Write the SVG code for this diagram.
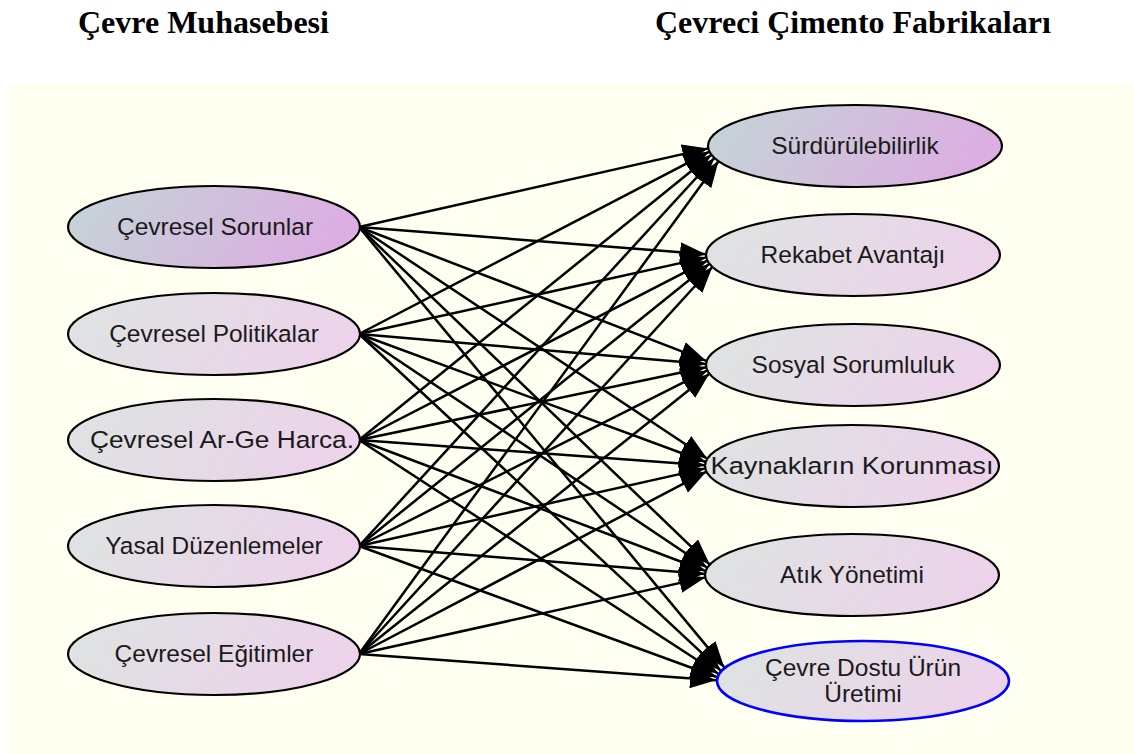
<svg xmlns="http://www.w3.org/2000/svg" width="1134" height="754" viewBox="0 0 1134 754">
<defs>
<linearGradient id="gStrong" x1="0" y1="0" x2="1" y2="0.2">
<stop offset="0" stop-color="#c3d6d6"/>
<stop offset="1" stop-color="#dcaee2"/>
</linearGradient>
<linearGradient id="gLight" x1="0" y1="0" x2="1" y2="0.2">
<stop offset="0" stop-color="#dde4e1"/>
<stop offset="1" stop-color="#ecd3ea"/>
</linearGradient>
<marker id="arr" markerUnits="userSpaceOnUse" markerWidth="26" markerHeight="20" refX="26" refY="10" orient="auto" viewBox="0 0 26 20">
<path d="M0,0 L26,10 L0,20 z" fill="#000"/>
</marker>
<style>
.title{font-family:"Liberation Serif","Times New Roman",serif;font-weight:bold;font-size:32px;fill:#000}
.lbl{font-family:"Liberation Sans",Arial,sans-serif;font-size:24.5px;fill:#1a1a1a;text-anchor:middle}
.node ellipse{stroke:#000;stroke-width:2.2}
.strong{fill:url(#gStrong)}
.light{fill:url(#gLight)}
#edges line{stroke:#000;stroke-width:2.5;marker-end:url(#arr)}
</style>
</defs>
<rect x="0" y="0" width="1134" height="754" fill="#ffffff"/>
<rect x="8" y="84" width="1126" height="670" fill="#fefff0"/>
<text class="title" x="78" y="33">Çevre Muhasebesi</text>
<text class="title" x="655" y="33">Çevreci Çimento Fabrikaları</text>

<g id="edges">
<line x1="359" y1="227" x2="708.3" y2="148.4"/>
<line x1="359" y1="227" x2="706" y2="254.2"/>
<line x1="359" y1="227" x2="706.4" y2="360.9"/>
<line x1="359" y1="227" x2="707.3" y2="458.8"/>
<line x1="359" y1="227" x2="709.8" y2="564.6"/>
<line x1="359" y1="227" x2="724.3" y2="667.4"/>

<line x1="359" y1="334" x2="709.4" y2="151.6"/>
<line x1="359" y1="334" x2="706.3" y2="257.4"/>
<line x1="359" y1="334" x2="706" y2="364.1"/>
<line x1="359" y1="334" x2="705.7" y2="462"/>
<line x1="359" y1="334" x2="707.3" y2="567.8"/>
<line x1="359" y1="334" x2="720.8" y2="670.6"/>

<line x1="359" y1="440" x2="711.4" y2="154.8"/>
<line x1="359" y1="440" x2="707.4" y2="260.6"/>
<line x1="359" y1="440" x2="706.2" y2="367.3"/>
<line x1="359" y1="440" x2="705" y2="465.2"/>
<line x1="359" y1="440" x2="705.7" y2="571"/>
<line x1="359" y1="440" x2="718.3" y2="673.8"/>

<line x1="359" y1="546" x2="714.4" y2="158"/>
<line x1="359" y1="546" x2="709.4" y2="263.7"/>
<line x1="359" y1="546" x2="707.3" y2="370.4"/>
<line x1="359" y1="546" x2="705.3" y2="468.4"/>
<line x1="359" y1="546" x2="705" y2="574.1"/>
<line x1="359" y1="546" x2="716.7" y2="677"/>

<line x1="359" y1="654" x2="718.5" y2="161.2"/>
<line x1="359" y1="654" x2="712.4" y2="267"/>
<line x1="359" y1="654" x2="709.3" y2="373.7"/>
<line x1="359" y1="654" x2="706.4" y2="471.6"/>
<line x1="359" y1="654" x2="705.3" y2="577.4"/>
<line x1="359" y1="654" x2="716" y2="680.2"/>
</g>

<g id="n-cevresel-sorunlar" class="node">
<ellipse class="strong" cx="214" cy="227" rx="146" ry="41"/>
<text class="lbl" x="215" y="235">Çevresel Sorunlar</text>
</g>
<g id="n-cevresel-politikalar" class="node">
<ellipse class="light" cx="214" cy="334" rx="146" ry="41"/>
<text class="lbl" x="214" y="342">Çevresel Politikalar</text>
</g>
<g id="n-cevresel-arge" class="node">
<ellipse class="light" cx="214" cy="440" rx="146" ry="41"/>
<text class="lbl" x="222" y="448" textLength="264" lengthAdjust="spacingAndGlyphs">Çevresel Ar-Ge Harca.</text>
</g>
<g id="n-yasal" class="node">
<ellipse class="light" cx="214" cy="546" rx="146" ry="41"/>
<text class="lbl" x="214" y="554">Yasal Düzenlemeler</text>
</g>
<g id="n-egitimler" class="node">
<ellipse class="light" cx="214" cy="654" rx="146" ry="41"/>
<text class="lbl" x="214" y="662">Çevresel Eğitimler</text>
</g>

<g id="n-surdurulebilirlik" class="node">
<ellipse class="strong" cx="855" cy="146" rx="147" ry="41"/>
<text class="lbl" x="855" y="154">Sürdürülebilirlik</text>
</g>
<g id="n-rekabet" class="node">
<ellipse class="light" cx="853" cy="255" rx="147" ry="41"/>
<text class="lbl" x="853" y="263">Rekabet Avantajı</text>
</g>
<g id="n-sosyal" class="node">
<ellipse class="light" cx="853" cy="365" rx="147" ry="41"/>
<text class="lbl" x="853" y="373">Sosyal Sorumluluk</text>
</g>
<g id="n-kaynaklar" class="node">
<ellipse class="light" cx="852" cy="466" rx="147" ry="41"/>
<text class="lbl" x="852" y="474" textLength="283" lengthAdjust="spacingAndGlyphs">Kaynakların Korunması</text>
</g>
<g id="n-atik" class="node">
<ellipse class="light" cx="852" cy="575" rx="147" ry="41"/>
<text class="lbl" x="852" y="583">Atık Yönetimi</text>
</g>
<g id="n-cevre-dostu" class="node">
<ellipse class="light" cx="863" cy="681" rx="146" ry="40" style="stroke:#0000ff;stroke-width:2.6"/>
<text class="lbl" x="863" y="676">Çevre Dostu Ürün</text>
<text class="lbl" x="863" y="702">Üretimi</text>
</g>
</svg>
